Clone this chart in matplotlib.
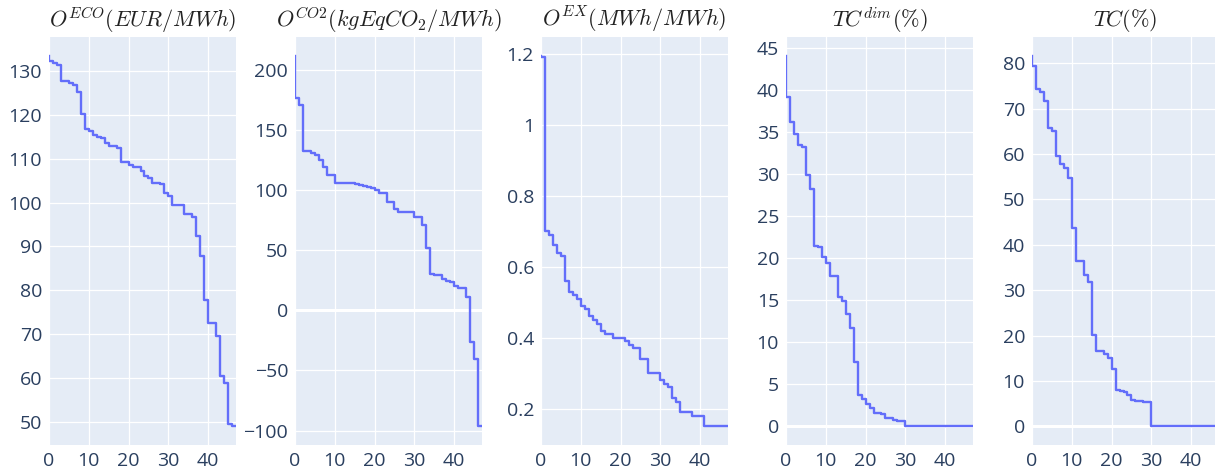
import numpy as np
import matplotlib.pyplot as plt
from matplotlib.ticker import FuncFormatter

plt.rcParams['font.family'] = ['Open Sans', 'DejaVu Sans']
plt.rcParams['mathtext.fontset'] = 'cm'

# Curvas monotonas (valores ordenados de mayor a menor), 48 puntos cada una
o_eco = [133.5, 132.2, 131.9, 131.3, 127.6, 127.6, 127.2, 126.8, 125.2, 120.2,
         116.8, 116.2, 115.3, 114.9, 114.7, 113.5, 113.0, 113.0, 112.5, 109.2,
         109.2, 108.6, 108.0, 108.0, 107.2, 106.0, 105.7, 104.5, 104.5, 104.2,
         102.1, 101.5, 99.4, 99.4, 99.4, 97.5, 97.5, 96.7, 92.3, 87.8,
         77.7, 72.6, 72.5, 69.7, 60.5, 58.8, 49.5, 49.0]
o_co2 = [212.0, 176.6, 171.0, 132.4, 132.4, 131.0, 129.6, 124.8, 119.2, 112.7,
         112.7, 106.2, 106.0, 105.9, 105.7, 105.6, 105.5, 104.0, 103.7, 102.5,
         101.4, 100.0, 97.5, 97.5, 90.1, 90.1, 84.0, 81.8, 81.8, 81.8,
         81.8, 78.0, 78.0, 71.0, 51.6, 30.3, 29.0, 29.0, 26.0, 24.6,
         23.2, 20.5, 19.0, 19.0, 11.2, -26.6, -40.6, -96.6]
o_ex = [1.195, 1.19, 0.70, 0.69, 0.66, 0.64, 0.63, 0.56, 0.53, 0.52,
        0.51, 0.49, 0.48, 0.46, 0.45, 0.44, 0.42, 0.41, 0.41, 0.40,
        0.40, 0.40, 0.39, 0.38, 0.37, 0.37, 0.34, 0.34, 0.30, 0.30,
        0.30, 0.28, 0.27, 0.26, 0.23, 0.22, 0.19, 0.19, 0.19, 0.18,
        0.18, 0.18, 0.15, 0.15, 0.15, 0.15, 0.15, 0.15]
tc_dim = [44.1, 39.2, 36.2, 34.8, 33.5, 33.2, 29.9, 28.2, 21.5, 21.3,
          20.2, 19.4, 17.9, 17.9, 15.4, 14.9, 13.4, 11.7, 7.7, 3.7,
          3.3, 2.7, 2.2, 1.6, 1.6, 1.5, 1.0, 1.0, 0.8, 0.6,
          0.6, 0, 0, 0, 0, 0, 0, 0, 0, 0,
          0, 0, 0, 0, 0, 0, 0, 0]
tc = [81.7, 79.4, 74.4, 73.7, 71.7, 65.7, 65.0, 59.5, 57.8, 57.0,
      54.8, 43.7, 36.4, 36.4, 33.3, 31.8, 20.1, 16.7, 16.6, 15.9,
      15.0, 12.7, 8.1, 7.9, 7.6, 7.0, 5.9, 5.6, 5.5, 5.3,
      5.3, 0, 0, 0, 0, 0, 0, 0, 0, 0,
      0, 0, 0, 0, 0, 0, 0, 0]

series = [o_eco, o_co2, o_ex, tc_dim, tc]
titles = [r'$O^{ECO}(EUR/MWh)$', r'$O^{CO2}(kgEqCO_2/MWh)$', r'$O^{EX}(MWh/MWh)$',
          r'$TC^{dim}(\%)$', r'$TC(\%)$']
yticks = [np.arange(50, 131, 10), np.arange(-100, 201, 50), [0.2, 0.4, 0.6, 0.8, 1.0, 1.2],
          np.arange(0, 46, 5), np.arange(0, 81, 10)]
xticks = [0, 10, 20, 30, 40]

W, H = 1215, 472
fig = plt.figure(figsize=(W / 100, H / 100), dpi=100)

lefts = [49, 295, 541, 786, 1032]
ancho = 187
top, bottom = 37, 445

fmt = FuncFormatter(lambda v, p: ('%g' % v).replace('-', '\u2212'))

for i, y in enumerate(series):
    l = lefts[i]
    ax = fig.add_axes([l / W, 1 - bottom / H, ancho / W, (bottom - top) / H])
    ax.set_facecolor('#E5ECF6')
    x = np.arange(len(y))
    ax.plot(x, y, drawstyle='steps-pre', color='#636EFA', lw=1.7, zorder=3)
    ax.set_xlim(0, 47)
    ymin, ymax = min(y), max(y)
    pad = (ymax - ymin) * 0.05
    ax.set_ylim(ymin - pad, ymax + pad)
    ax.set_xticks(xticks)
    ax.set_yticks(yticks[i])
    ax.yaxis.set_major_formatter(fmt)
    ax.grid(color='white', lw=0.9)
    ax.set_axisbelow(True)
    if ymin - pad < 0 < ymax + pad:
        ax.axhline(0, color='white', lw=2.2, zorder=1)
    for s in ax.spines.values():
        s.set_visible(False)
    ax.tick_params(length=0, labelsize=14, labelcolor='#2a3f5f', pad=5)
    fig.text((l + ancho / 2) / W, 1 - 20 / H, titles[i], ha='center', va='center',
             fontsize=16, color='#222222')

fig.savefig('out.png', dpi=100)
